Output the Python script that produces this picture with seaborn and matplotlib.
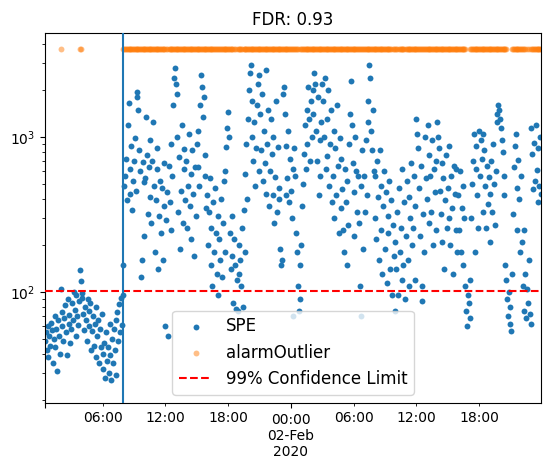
import numpy as np
import pandas as pd
import matplotlib
matplotlib.use("Agg")
import matplotlib.pyplot as plt
import matplotlib.dates as mdates
from matplotlib.ticker import FixedLocator, FixedFormatter
import seaborn as sns

# SPE values, one row per hour, 5-minute samples (Feb 1 starts at 00:30)
spe_feb1 = [
    48, 55, 42, 60, 38, 52,
    45, 63, 57, 35, 50, 70, 44, 58, 31, 66, 52, 40,
    104, 60, 74, 48, 68, 82, 55, 39, 90, 62, 71, 47,
    58, 85, 66, 100, 76, 52, 95, 70, 61, 88, 138, 118,
    98, 92, 72, 57, 80, 66, 48, 90, 75, 60, 85, 42,
    56, 70, 45, 62, 38, 80, 52, 66, 35, 58, 44, 72,
    40, 32, 47, 28, 55, 36, 44, 30, 62, 39, 27, 50,
    35, 58, 42, 66, 29, 74, 48, 84, 55, 92, 61, 96,
    150, 480, 560, 720, 390, 1200, 1650, 620, 430, 880, 340, 520,
    700, 980, 450, 1950, 1800, 1500, 820, 600, 125, 160, 690, 510,
    230, 540, 1350, 760, 320, 640, 950, 410, 280, 700, 1250, 480,
    180, 390, 620, 850, 140, 310, 520, 240, 470, 160, 680, 360,
    60, 290, 440, 52, 650, 380, 900, 250, 560, 1600, 2400, 2800,
    2200, 1900, 1000, 330, 740, 190, 450, 1200, 280, 620, 840, 390,
    700, 260, 480, 1050, 360, 580, 220, 820, 430, 170, 640, 310,
    900, 640, 1100, 480, 1600, 2500, 2100, 1350, 1800, 760, 560, 350,
    420, 200, 330, 540, 150, 260, 110, 380, 180, 470, 240, 130,
    310, 95, 220, 160, 400, 125, 280, 520, 180, 600, 860, 1150,
    1450, 1000, 240, 140, 310, 170, 85, 220, 150, 78, 120, 75,
    130, 200, 160, 110, 260, 80, 340, 180, 580, 900, 400, 1300,
    2000, 2600, 2900, 1700, 1000, 700, 1250, 480, 850, 1600, 2200, 600,
    2500, 1400, 820, 1900, 520, 1100, 680, 2700, 430, 900, 1500, 360,
    600, 1300, 780, 420, 1000, 280, 550, 1700, 330, 860, 470, 400,
    190, 150, 160, 1900, 2100, 1400, 880, 420, 540, 1100, 380, 720,
]
spe_feb2 = [
    450, 300, 70, 620, 850, 560, 240, 180, 110, 75, 150, 90,
    200, 360, 500, 780, 1200, 620, 1500, 900, 2100, 1300, 700, 1700,
    1000, 1400, 2000, 2600, 2200, 1100, 700, 1800, 420, 950, 560, 1250,
    2200, 1700, 1000, 2400, 620, 1300, 750, 2000, 480, 900, 1500, 380,
    560, 1100, 300, 850, 420, 1600, 650, 240, 980, 350, 720, 460,
    250, 180, 620, 380, 520, 150, 270, 900, 1400, 2300, 1200, 680,
    440, 230, 1000, 600, 330, 560, 280, 110, 70, 480, 820, 190,
    560, 330, 950, 420, 1250, 1700, 2900, 2400, 1100, 820, 1500, 600,
    300, 560, 220, 700, 410, 160, 830, 250, 480, 130, 360, 600,
    190, 440, 115, 310, 240, 520, 140, 390, 95, 270, 170, 75,
    210, 140, 330, 95, 470, 180, 260, 120, 620, 150, 380, 90,
    230, 520, 160, 410, 110, 300, 680, 200, 260, 560, 120, 360,
    1300, 1050, 850, 470, 230, 650, 110, 88, 320, 180, 1000, 540,
    400, 1200, 280, 760, 560, 330, 950, 200, 620, 440, 250, 700,
    1250, 1000, 850, 450, 320, 680, 210, 540, 140, 390, 760, 260,
    470, 300, 880, 200, 560, 350, 130, 650, 430, 250, 620, 180,
    420, 250, 600, 180, 350, 480, 150, 300, 110, 75, 60, 95,
    85, 68, 120, 300, 500, 700, 1050, 180, 620, 880, 420, 260,
    1100, 560, 950, 720, 330, 1050, 820, 480, 260, 650, 370, 550,
    430, 210, 700, 330, 900, 500, 270, 600, 1250, 1400, 1600, 1500,
    1300, 1150, 950, 800, 560, 420, 150, 120, 90, 70, 100, 62,
    80, 56, 130, 320, 640, 880, 1050, 470, 250, 710, 400, 180,
    560, 210, 110, 75, 250, 130, 68, 105, 85, 160, 72, 62,
    1150, 780, 460, 920, 520, 1200, 610, 380, 850, 480, 1000, 430,
]

confidence_limit = 102
alarm_level = 3690
fault_start = "2020-02-01 08:00"
fdr = 0.93

times = pd.date_range("2020-02-01 00:30", periods=len(spe_feb1) + len(spe_feb2), freq="5min")
df = pd.DataFrame({"time": times, "SPE": spe_feb1 + spe_feb2})
alarms = df[df["SPE"] > confidence_limit]

fig, ax = plt.subplots(figsize=(5.5, 4.68), dpi=100)
fig.subplots_adjust(left=45 / 550, right=541 / 550, bottom=65 / 468, top=435 / 468)

sns.scatterplot(data=df, x="time", y="SPE", ax=ax, color="#1f77b4", s=18,
                linewidth=0, label="SPE", zorder=2)
sns.scatterplot(x=alarms["time"], y=[alarm_level] * len(alarms), ax=ax, color="#ff7f0e",
                alpha=0.5, s=18, linewidth=0, label="alarmOutlier", zorder=2)
ax.axhline(confidence_limit, color="red", linestyle="--", linewidth=1.5,
           label="99% Confidence Limit", zorder=3)
ax.axvline(pd.Timestamp(fault_start), color="#1f77b4", linewidth=1.5, zorder=3)

ax.set_yscale("log")
ax.set_ylim(19.2, 4690)
ax.set_xlim(times[0], times[-1])

# pandas-like date ticks: day ticks are major, 6-hour ticks are minor
major_times = [times[0], pd.Timestamp("2020-02-02 00:00")]
major_labels = ["", "00:00\n02-Feb\n2020"]
minor_times = [pd.Timestamp(t) for t in ["2020-02-01 06:00", "2020-02-01 12:00", "2020-02-01 18:00",
                                         "2020-02-02 06:00", "2020-02-02 12:00", "2020-02-02 18:00"]]
minor_labels = ["06:00", "12:00", "18:00", "06:00", "12:00", "18:00"]

ax.xaxis.set_major_locator(FixedLocator([mdates.date2num(t.to_pydatetime()) for t in major_times]))
ax.xaxis.set_major_formatter(FixedFormatter(major_labels))
ax.xaxis.set_minor_locator(FixedLocator([mdates.date2num(t.to_pydatetime()) for t in minor_times]))
ax.xaxis.set_minor_formatter(FixedFormatter(minor_labels))
ax.set_xlabel("")
ax.set_ylabel("")
ax.set_title("FDR: %.2f" % fdr, fontsize=12)

ax.legend(loc="lower center", fontsize=12)

fig.savefig("out.png", dpi=100)
